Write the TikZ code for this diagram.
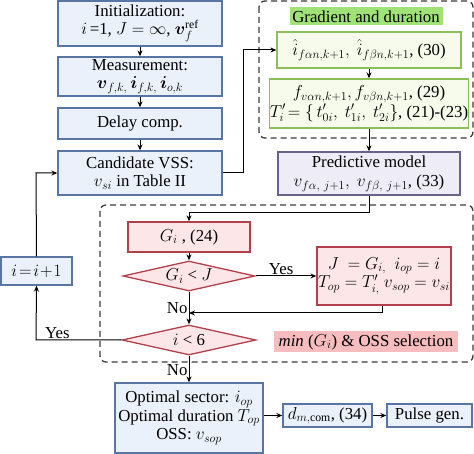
\documentclass[tikz,border=0pt]{standalone}
\usepackage{amsmath}
\usepackage{fontspec}
\setmainfont{Liberation Serif}
\usetikzlibrary{shapes.geometric,arrows.meta}
\definecolor{bluefill}{RGB}{234,241,250}
\definecolor{blueline}{RGB}{88,118,163}
\definecolor{greenfill}{RGB}{246,251,235}
\definecolor{greenline}{RGB}{140,190,90}
\definecolor{greenlab}{RGB}{160,226,120}
\definecolor{purpfill}{RGB}{238,236,246}
\definecolor{purpline}{RGB}{105,98,140}
\definecolor{redfill}{RGB}{252,230,232}
\definecolor{redline}{RGB}{176,64,76}
\definecolor{pinklab}{RGB}{246,188,190}
\definecolor{dashgray}{RGB}{60,60,60}
\begin{document}
\begin{tikzpicture}[x=1pt,y=-1pt,font=\fontsize{16.8}{18.5}\selectfont,
 box/.style={draw,line width=1.3pt,rectangle,inner sep=0pt,align=center},
 bluebox/.style={box,draw=blueline,fill=bluefill},
 greenbox/.style={box,draw=greenline,fill=greenfill},
 purpbox/.style={box,draw=purpline,fill=purpfill},
 redbox/.style={box,draw=redline,fill=redfill},
 reddiam/.style={diamond,draw=redline,fill=redfill,line width=1.3pt,inner sep=0pt,aspect=4.4},
 tag/.style={rectangle,inner sep=0pt,align=center},
 arr/.style={-{Stealth[length=6pt,width=5pt]},line width=1pt},
 dashbox/.style={draw=dashgray,dash pattern=on 6pt off 4pt,line width=1.3pt,rounded corners=6pt},
 lab/.style={inner sep=1pt}]
\useasboundingbox (0,0) rectangle (474,454);
% dashed groups
\draw[dashbox] (259,1) rectangle (473,138);
\draw[dashbox] (100,205) rectangle (473,362);
% left column
\node[bluebox,minimum width=164pt,minimum height=45pt] (init) at (140,23.5) {Initialization:\\ $i$\,=1, $J=\infty$, $\boldsymbol{v}_f^{\mathrm{ref}}$};
\node[bluebox,minimum width=164pt,minimum height=39pt] (meas) at (140,76.5) {Measurement:\\ $\boldsymbol{v}_{f,k,}\,\boldsymbol{i}_{f,k,}\,\boldsymbol{i}_{o,k}$};
\node[bluebox,minimum width=164pt,minimum height=31pt] (delay) at (140,123.5) {Delay comp.};
\node[bluebox,minimum width=164pt,minimum height=44pt] (cand) at (140,173) {Candidate VSS:\\ $v_{si}$ in Table II};
\node[bluebox,minimum width=71pt,minimum height=28pt] (incr) at (36.5,271) {$i\!=\!i\!+\!1$};
% top right group
\node[tag,fill=greenlab,minimum width=153pt,minimum height=18pt] (gradlab) at (366,16.5) {Gradient and duration};
\node[greenbox,minimum width=184pt,minimum height=36pt] (g1) at (369,50) {$\hat{i}_{f\alpha n,k+1},\ \hat{i}_{f\beta n,k+1}$, (30)};
\node[greenbox,minimum width=184pt,minimum height=49pt] (g2) at (369,103.5) {$f_{v\alpha n,k+1}, f_{v\beta n,k+1}$, (29)\\[1pt] $T'_i\!=\{\,t'_{0i},\ t'_{1i},\ t'_{2i}\}$, (21)-(23)};
\node[purpbox,minimum width=182pt,minimum height=43pt] (pred) at (369,173.5) {Predictive model\\[1pt] $v_{f\alpha,\ j+1},\ v_{f\beta,\ j+1}$, (33)};
% bottom group
\node[redbox,minimum width=122pt,minimum height=30pt] (gi) at (189,237) {$G_i$ , (24)};
\node[reddiam,minimum width=132pt,minimum height=30pt] (d1) at (189,276) {$G_i$ < $J$};
\node[redbox,minimum width=134pt,minimum height=58pt] (res) at (384,276) {$J\ = G_{i,}\ \ i_{op} = i$\\ $T_{op} = T'_{i,}\ v_{sop} = v_{si}$};
\node[reddiam,minimum width=134pt,minimum height=30pt] (d2) at (189,340) {$i$ < 6};
\node[tag,fill=pinklab,minimum width=184pt,minimum height=21pt] (minlab) at (366,342) {\textit{min} ($G_i$) \& OSS selection};
% output row
\node[bluebox,minimum width=148pt,minimum height=70pt] (opt) at (189,418) {Optimal sector: $i_{op}$\\ Optimal duration $T_{op}$\\ OSS: $v_{sop}$};
\node[bluebox,minimum width=89pt,minimum height=23pt] (dcom) at (327.5,415.5) {$d_{m,\mathrm{com}}$, (34)};
\node[bluebox,minimum width=85pt,minimum height=23pt] (pulse) at (429.5,415.5) {Pulse gen.};
% connectors
\draw[arr] (init) -- (meas);
\draw[arr] (meas) -- (delay);
\draw[arr] (delay) -- (cand);
\coordinate (c1) at (243,173);
\coordinate (c2) at (243,50);
\draw[arr] (cand.east) -- (c1) -- (c2) -- (g1.west);
\draw[arr] (g1) -- (g2);
\draw[arr] (g2) -- (pred);
\coordinate (p1) at (369,213);
\coordinate (p2) at (189,213);
\draw[arr] (pred.south) -- (p1) -- (p2) -- (gi.north);
\draw[arr] (gi) -- (d1);
\draw[arr] (d1.east) -- node[lab,above,pos=0.42] {Yes} (res.west);
\draw[arr] (d1.south) -- node[lab,left,pos=0.5] {No} (d2.north);
\coordinate (r1) at (382,313);
\coordinate (r2) at (189,313);
\draw[arr] (res.south -| r1) -- (r1) -- (r2);
\coordinate (y1) at (36,340);
\draw[arr] (d2.west) -- node[lab,above,pos=0.75] {Yes} (y1) -- (incr.south);
\coordinate (u1) at (36,173);
\draw[arr] (incr.north) -- (u1) -- (cand.west);
\draw[arr] (d2.south) -- node[lab,left,pos=0.55] {No} (opt.north);
\draw[arr] (opt.east |- dcom) -- (dcom.west);
\draw[arr] (dcom) -- (pulse);
\end{tikzpicture}
\end{document}
